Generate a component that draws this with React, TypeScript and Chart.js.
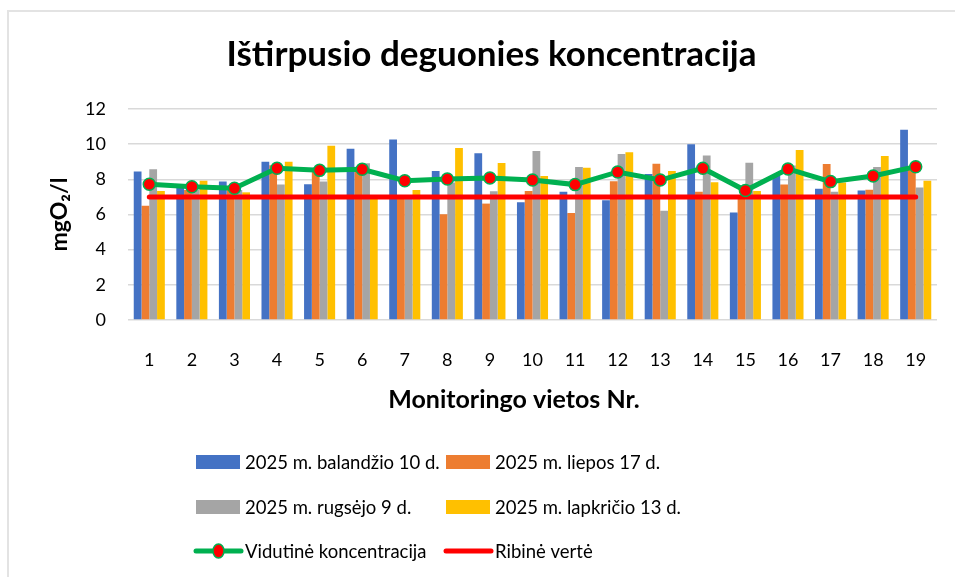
import React, { useEffect, useRef } from "react";
import { Chart, registerables } from "chart.js";

Chart.register(...registerables);

const categories = ["1","2","3","4","5","6","7","8","9","10","11","12","13","14","15","16","17","18","19"];
const yTicks = [0, 2, 4, 6, 8, 10, 12];

const balandzio = [8.44, 7.6, 7.87, 9.0, 7.72, 9.74, 10.27, 8.47, 9.48, 6.69, 7.3, 6.81, 8.3, 9.99, 6.12, 8.19, 7.47, 7.37, 10.82];
const liepos = [6.5, 7.4, 7.4, 8.8, 8.54, 8.6, 7.0, 6.01, 6.62, 7.34, 6.09, 7.89, 8.89, 7.3, 7.0, 7.7, 8.87, 7.41, 8.6];
const rugsejo = [8.57, 7.4, 7.4, 7.7, 7.87, 8.91, 7.05, 7.82, 7.32, 9.61, 8.7, 9.44, 6.22, 9.35, 8.95, 8.78, 7.3, 8.7, 7.54];
const lapkricio = [7.34, 7.92, 7.26, 9.0, 9.91, 7.0, 7.39, 9.78, 8.93, 8.19, 8.66, 9.54, 8.47, 7.83, 7.34, 9.67, 7.82, 9.33, 7.92];
const vidutine = [7.72, 7.58, 7.49, 8.63, 8.51, 8.57, 7.92, 8.02, 8.08, 7.96, 7.7, 8.42, 7.96, 8.63, 7.36, 8.59, 7.87, 8.19, 8.72];
const ribine = [7, 7, 7, 7, 7, 7, 7, 7, 7, 7, 7, 7, 7, 7, 7, 7, 7, 7, 7];

const seriesNames = [
  "2025 m. balandžio 10 d.",
  "2025 m. liepos 17 d.",
  "2025 m. rugsėjo 9 d.",
  "2025 m. lapkričio 13 d.",
  "Vidutinė koncentracija",
  "Ribinė vertė",
];
const xTitle = "Monitoringo vietos Nr.";

const FONT = "Lato, 'Noto Sans', sans-serif";

const legendPlugin = {
  id: "gridLegend",
  afterDraw(chart: any) {
    const ctx = chart.ctx as CanvasRenderingContext2D;
    const ds = chart.data.datasets;
    const cols = [196, 446];
    const rows = [462, 507, 551];
    ctx.save();
    // x axis title (Excel centres it slightly left of the plot centre)
    ctx.font = `bold 25px ${FONT}`;
    ctx.textAlign = "center";
    ctx.textBaseline = "middle";
    ctx.fillStyle = "#000";
    ctx.fillText(xTitle, 514, 400);

    ctx.textAlign = "left";
    ctx.font = `18.5px ${FONT}`;
    for (let i = 0; i < ds.length; i++) {
      const d = ds[i];
      const x = cols[i % 2];
      const y = rows[Math.floor(i / 2)];
      if (d.type === "line") {
        ctx.strokeStyle = d.borderColor;
        ctx.lineWidth = d.borderWidth;
        ctx.lineCap = "round";
        ctx.beginPath();
        ctx.moveTo(x, y);
        ctx.lineTo(x + 45, y);
        ctx.stroke();
        if (d.pointRadius > 0) {
          ctx.beginPath();
          ctx.ellipse(x + 22.5, y, 5.5, 7, 0, 0, Math.PI * 2);
          ctx.fillStyle = d.pointBackgroundColor;
          ctx.fill();
          ctx.lineWidth = d.pointBorderWidth;
          ctx.strokeStyle = d.pointBorderColor;
          ctx.stroke();
        }
      } else {
        ctx.fillStyle = d.backgroundColor;
        ctx.fillRect(x, y - 7, 44, 14);
      }
      ctx.fillStyle = "#000";
      ctx.fillText(d.label, x + 49, y + 1);
    }
    ctx.restore();
  },
};

export default function App() {
  const ref = useRef<HTMLCanvasElement | null>(null);

  useEffect(() => {
    document.body.style.margin = "0";
    Chart.defaults.font.family = FONT;
    Chart.defaults.color = "#000";
    const barDs = (label: string, data: number[], color: string) => ({
      type: "bar" as const,
      label,
      data,
      backgroundColor: color,
      borderWidth: 0,
      order: 3,
    });
    const chart = new Chart(ref.current as HTMLCanvasElement, {
      type: "bar",
      data: {
        labels: categories,
        datasets: [
          barDs(seriesNames[0], balandzio, "#4472c4"),
          barDs(seriesNames[1], liepos, "#ed7d31"),
          barDs(seriesNames[2], rugsejo, "#a5a5a5"),
          barDs(seriesNames[3], lapkricio, "#ffc000"),
          {
            type: "line",
            label: seriesNames[4],
            data: vidutine,
            borderColor: "#00b050",
            backgroundColor: "#00b050",
            borderWidth: 5,
            pointRadius: 6,
            pointBackgroundColor: "#ff0000",
            pointBorderColor: "#00b050",
            pointBorderWidth: 1.5,
            tension: 0,
            order: 1,
          } as any,
          {
            type: "line",
            label: seriesNames[5],
            data: ribine,
            borderColor: "#ff0000",
            backgroundColor: "#ff0000",
            borderWidth: 5,
            pointRadius: 0,
            borderCapStyle: "round",
            tension: 0,
            order: 2,
          } as any,
        ],
      },
      options: {
        animation: false,
        responsive: false,
        layout: { padding: { left: 46, right: 18, top: 0, bottom: 157 } },
        datasets: {
          bar: { barPercentage: 1, categoryPercentage: 0.73 },
        },
        plugins: {
          legend: { display: false },
          tooltip: { enabled: false },
          title: {
            display: true,
            text: "Ištirpusio deguonies koncentracija",
            font: { size: 35, weight: "bold", family: FONT },
            color: "#000",
            padding: { top: 34, bottom: 33 },
          },
        },
        scales: {
          x: {
            grid: { display: false },
            border: { display: false },
            ticks: { font: { size: 18 }, color: "#000", padding: 21, maxRotation: 0 },
            title: { display: false },
            afterFit: (axis: any) => {
              axis.height = 100;
            },
          },
          y: {
            min: 0,
            max: 12,
            afterBuildTicks: (axis: any) => {
              axis.ticks = yTicks.map((v) => ({ value: v }));
            },
            grid: { color: "#d9d9d9", lineWidth: 1.5, drawTicks: false },
            border: { display: false },
            ticks: { font: { size: 18 }, color: "#000", padding: 22 },
            title: {
              display: true,
              text: "mgO₂/l",
              font: { size: 23, weight: "bold" },
              color: "#000",
              padding: 0,
            },
            afterFit: (axis: any) => {
              axis.width = 82;
            },
          },
        },
      },
      plugins: [legendPlugin],
    });
    return () => chart.destroy();
  }, []);

  return (
    <div style={{ position: "relative", width: 955, height: 577, overflow: "hidden", background: "#fff" }}>
      <div
        style={{
          position: "absolute",
          left: 7,
          top: 10,
          width: 1000,
          height: 1000,
          borderLeft: "2px solid #e3e3e3",
          borderTop: "2px solid #e3e3e3",
        }}
      />
      <canvas ref={ref} width={955} height={577} style={{ position: "absolute", left: 0, top: 0 }} />
    </div>
  );
}
